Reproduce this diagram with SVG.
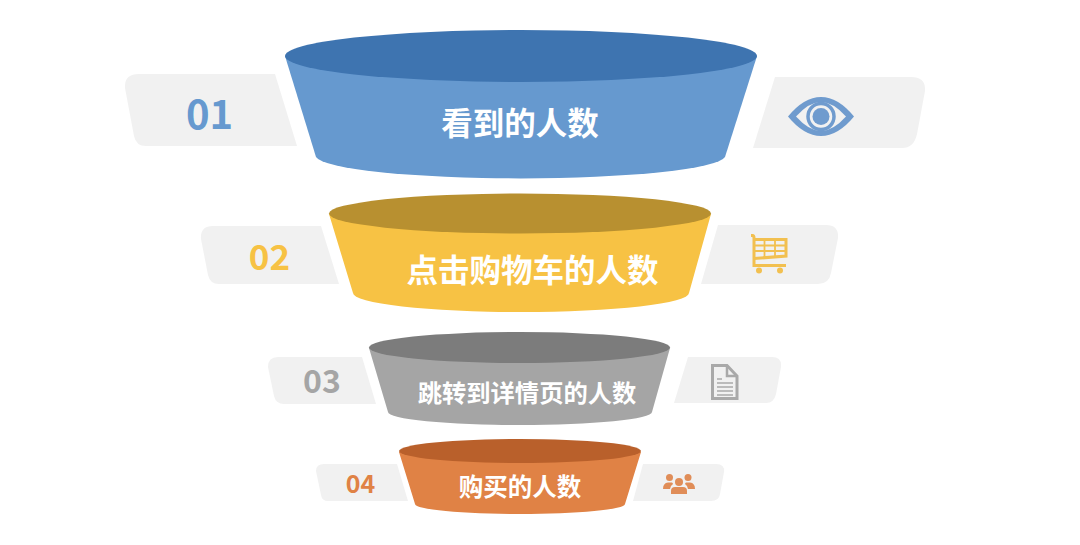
<svg xmlns="http://www.w3.org/2000/svg" width="1080" height="545" viewBox="0 0 1080 545">
<style>
.plate{fill:#f1f1f1}
.lbl{font-family:"Noto Sans CJK SC","Noto Sans",sans-serif;font-weight:700;fill:#fff;text-anchor:middle}
.num{font-family:"Noto Sans CJK SC","Noto Sans",sans-serif;font-weight:700;text-anchor:middle}
</style>
<rect width="1080" height="545" fill="#fff"/>
<g id="stage-1">
<path class="plate" d="M139 74H275L297 146H146Q136 146 134 136L125 88Q124 74 139 74Z"/>
<path class="plate" d="M775 77H911Q926 77 925 91L917 134Q914 148 902 148H753Z"/>
<path d="M285 56L316 157A205 23 0 0 0 725 157L757 56Z" fill="#6699cf"/>
<ellipse cx="521" cy="56" rx="236" ry="26" fill="#3e74b0"/>
<text class="lbl" x="520" y="135" font-size="31.500">看到的人数</text>
<text class="num" x="209.500" y="129" font-size="40" fill="#6699cf">01</text>
<g id="icon-eye">
<path d="M788 116.500Q804 97 821 97Q838 97 854 116.500Q838 136 821 136Q804 136 788 116.500Z" fill="#6f9bce"/>
<path d="M796 116.500Q809 102 821 102Q833 102 846 116.500Q833 131 821 131Q809 131 796 116.500Z" fill="#f1f1f1"/>
<circle cx="821" cy="116.500" r="13" fill="none" stroke="#6f9bce" stroke-width="3.500"/>
<circle cx="821" cy="116.500" r="8.500" fill="#6f9bce"/>
</g>
</g>
<g id="stage-2">
<path class="plate" d="M213 226H321L339 284H219Q210 284 208 275L201 239Q200 226 213 226Z"/>
<path class="plate" d="M718 225H826Q839 225 838 238L831 273Q829 284 818 284H701Z"/>
<path d="M329 214L353 293A168 19 0 0 0 689 293L711 214Z" fill="#f7c244"/>
<ellipse cx="520" cy="213.500" rx="191" ry="20" fill="#b89030"/>
<text class="lbl" x="532.500" y="282" font-size="31.500">点击购物车的人数</text>
<text class="num" x="269.500" y="270" font-size="35" fill="#f7c244">02</text>
<g id="icon-cart" fill="none" stroke="#f2c050">
<path d="M751 235.500H752.500Q754 235.500 754 238V265.500H786" stroke-width="3"/>
<path d="M754 239.500H786V256L754 258.500" stroke-width="3"/>
<path d="M764.500 240V258M775 240V257M755 245.500H786M755 251H786" stroke-width="1.800"/>
<circle cx="759" cy="270.500" r="3" fill="#f2c050" stroke="none"/>
<circle cx="780" cy="270.500" r="3" fill="#f2c050" stroke="none"/>
</g>
</g>
<g id="stage-3">
<path class="plate" d="M278 357H362L376 404H284Q276 404 274 396L268 367Q268 357 278 357Z"/>
<path class="plate" d="M688 357H772Q782 357 781 367L776 394Q774 403 766 403H674Z"/>
<path d="M369 348L388 412A132 13 0 0 0 652 412L670 348Z" fill="#a5a5a5"/>
<ellipse cx="519.500" cy="347.500" rx="150.500" ry="15.500" fill="#7c7c7c"/>
<text class="lbl" x="527" y="402" font-size="24.300">跳转到详情页的人数</text>
<text class="num" x="322" y="393" font-size="32" fill="#a5a5a5">03</text>
<g id="icon-doc" fill="none" stroke="#a9a9a9">
<path d="M712.500 365.500H727L737 376V398.500H712.500Z" stroke-width="3"/>
<path d="M727 366V376H737" stroke-width="2.500"/>
<path d="M717 379H722M717 383H733M717 387H733M717 391H733M717 395H733" stroke-width="1.500"/>
</g>
</g>
<g id="stage-4">
<path class="plate" d="M324 464H397L408 501H328Q322 501 321 495L316 471Q316 464 324 464Z"/>
<path class="plate" d="M643 464H716Q725 464 724 472L720 494Q719 501 711 501H633Z"/>
<path d="M399 452L415 504A105 10 0 0 0 625 504L641 452Z" fill="#e08245"/>
<ellipse cx="520" cy="451" rx="121" ry="12" fill="#b9602b"/>
<text class="lbl" x="520" y="496" font-size="24.500">购买的人数</text>
<text class="num" x="360.500" y="493" font-size="25" fill="#e08245">04</text>
<g id="icon-people" fill="#e08d58">
<circle cx="669.500" cy="477.500" r="3.500"/>
<circle cx="688" cy="477.500" r="3.500"/>
<circle cx="679" cy="482" r="4"/>
<path d="M663 489Q663 483 668 482.500H672Q673 483 673 484Q670 486 670 489Z"/>
<path d="M695 489Q695 483 690 482.500H686Q685 483 685 484Q688 486 688 489Z"/>
<path d="M671 494V491Q671 487 675 487H683Q687 487 687 491V494Z"/>
</g>
</g>
</svg>
